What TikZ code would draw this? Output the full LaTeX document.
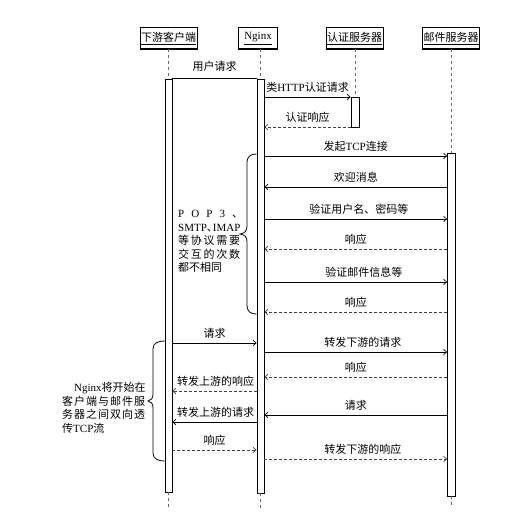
\documentclass[tikz,border=0pt]{standalone}
\usepackage{fontspec}
\setmainfont{Noto Sans CJK SC}
\newfontfamily\lat{Liberation Serif}
\usetikzlibrary{arrows.meta}
\begin{document}
\begin{tikzpicture}[x=1pt,y=-1pt,
  every node/.style={font=\fontsize{11}{13.5}\selectfont},
  head/.style={draw, line width=1pt, minimum height=21pt, inner sep=1pt,
    append after command={\pgfextra{\draw[line width=1.8pt] (\tikzlastnode.south west) -- (\tikzlastnode.south east);}}},
  bar/.style={draw, fill=white, line width=0.8pt, minimum width=7pt, inner sep=0pt},
  life/.style={draw=black!60, dash pattern=on 3pt off 3pt, line width=0.6pt},
  msg/.style={line width=0.7pt, -{Straight Barb[length=3pt,width=5.5pt]}},
  ret/.style={msg, dash pattern=on 3pt off 2pt, draw=black!75},
  lbl/.style={anchor=south, inner sep=0pt, yshift=4pt},
  brace/.style={line width=0.8pt},
  note/.style={anchor=west, align=left, inner sep=0pt}
]
\useasboundingbox (0,0) rectangle (515,521);
% headers
\node[head, minimum width=57pt] (hc) at (168.5,38.5) {\underline{下游客户端}};
\node[head, minimum width=39pt] (hn) at (258,38.5) {\underline{\lat Nginx}};
\node[head, minimum width=55pt] (ha) at (354.5,38.5) {\underline{认证服务器}};
\node[head, minimum width=56pt] (hm) at (451,38.5) {\underline{邮件服务器}};
% activation bars
\node[bar, minimum height=413pt] (cb) at (168.5,285.5) {};
\node[bar, minimum height=414pt] (nb) at (260.5,286) {};
\node[bar, minimum width=8pt, minimum height=30pt] (ab) at (355,112) {};
\node[bar, minimum width=8pt, minimum height=343pt] (mb) at (451.5,324.5) {};
% lifelines
\coordinate (ce) at (168.5,508);
\coordinate (ne) at (260.5,508);
\coordinate (me) at (451.5,508);
\draw[life] (hc.south -| cb.north) -- (cb.north);
\draw[life] (cb.south) -- (ce);
\draw[life] (hn.south -| nb.north) -- (nb.north);
\draw[life] (nb.south) -- (ne);
\draw[life] (ha.south -| ab.north) -- (ab.north);
\draw[life] (hm.south -| mb.north) -- (mb.north);
\draw[life] (mb.south) -- (me);
% messages
\draw[line width=0.7pt] (cb.north east) -- node[lbl, yshift=3pt]{用户请求} (nb.north west);
\draw[msg] (nb.east |- 0,97) -- node[lbl]{类{\lat HTTP}认证请求} (ab.west |- 0,97);
\draw[ret] (ab.west |- 0,127) -- node[lbl]{认证响应} (nb.east |- 0,127);
\draw[msg] (nb.east |- 0,156) -- node[lbl]{发起{\lat TCP}连接} (mb.west |- 0,156);
\draw[msg] (mb.west |- 0,187) -- node[lbl]{欢迎消息} (nb.east |- 0,187);
\draw[msg] (nb.east |- 0,219) -- node[lbl, xshift=3pt]{验证用户名、密码等} (mb.west |- 0,219);
\draw[ret] (mb.west |- 0,249) -- node[lbl]{响应} (nb.east |- 0,249);
\draw[msg] (nb.east |- 0,282) -- node[lbl, xshift=8pt]{验证邮件信息等} (mb.west |- 0,282);
\draw[ret] (mb.west |- 0,312) -- node[lbl]{响应} (nb.east |- 0,312);
\draw[msg] (cb.east |- 0,343) -- node[lbl]{请求} (nb.west |- 0,343);
\draw[msg] (nb.east |- 0,352) -- node[lbl, xshift=7pt]{转发下游的请求} (mb.west |- 0,352);
\draw[ret] (mb.west |- 0,377) -- node[lbl]{响应} (nb.east |- 0,377);
\draw[ret] (nb.west |- 0,391) -- node[lbl, xshift=1pt]{转发上游的响应} (cb.east |- 0,391);
\draw[msg] (mb.west |- 0,415) -- node[lbl]{请求} (nb.east |- 0,415);
\draw[msg] (nb.west |- 0,422) -- node[lbl, xshift=1pt]{转发上游的请求} (cb.east |- 0,422);
\draw[ret] (cb.east |- 0,450) -- node[lbl]{响应} (nb.west |- 0,450);
\draw[ret] (nb.east |- 0,459) -- node[lbl, xshift=7pt]{转发下游的响应} (mb.west |- 0,459);
% braces
\draw[brace] (nb.west |- 0,154) .. controls (251,154) and (247,156) .. (247,163) -- (247,226)
  .. controls (247,231) and (245,233) .. (240,234) .. controls (245,235) and (247,237) .. (247,242)
  -- (247,305) .. controls (247,312) and (251,314) .. (nb.west |- 0,314);
\draw[brace] (cb.west |- 0,341) .. controls (158,341) and (153,343) .. (153,349) -- (153,394)
  .. controls (153,399) and (151,400) .. (148,401) .. controls (151,402) and (153,403) .. (153,408)
  -- (153,453) .. controls (153,459) and (158,461) .. (cb.west |- 0,461);
% notes
\node[note] (t1) at (178,241.5) {%
  \makebox[62pt][s]{{\lat P}\hfill{\lat O}\hfill{\lat P}\hfill{\lat 3}\hfill\makebox[8pt][l]{、}}\\
  \makebox[62pt][s]{{\lat SMTP}\hfill\makebox[6pt][l]{、}\hfill{\lat IMAP}}\\
  \makebox[62pt][s]{等\hfill 协\hfill 议\hfill 需\hfill 要}\\
  \makebox[62pt][s]{交\hfill 互\hfill 的\hfill 次\hfill 数}\\
  都不相同};
\node[note] (t2) at (62,408) {%
  \hspace*{12pt}\makebox[71pt][s]{{\lat Nginx}\hfill 将\hfill 开\hfill 始\hfill 在}\\
  \makebox[83pt][s]{客\hfill 户\hfill 端\hfill 与\hfill 邮\hfill 件\hfill 服}\\
  \makebox[83pt][s]{务\hfill 器\hfill 之\hfill 间\hfill 双\hfill 向\hfill 透}\\
  传{\lat TCP}流};
\end{tikzpicture}
\end{document}
